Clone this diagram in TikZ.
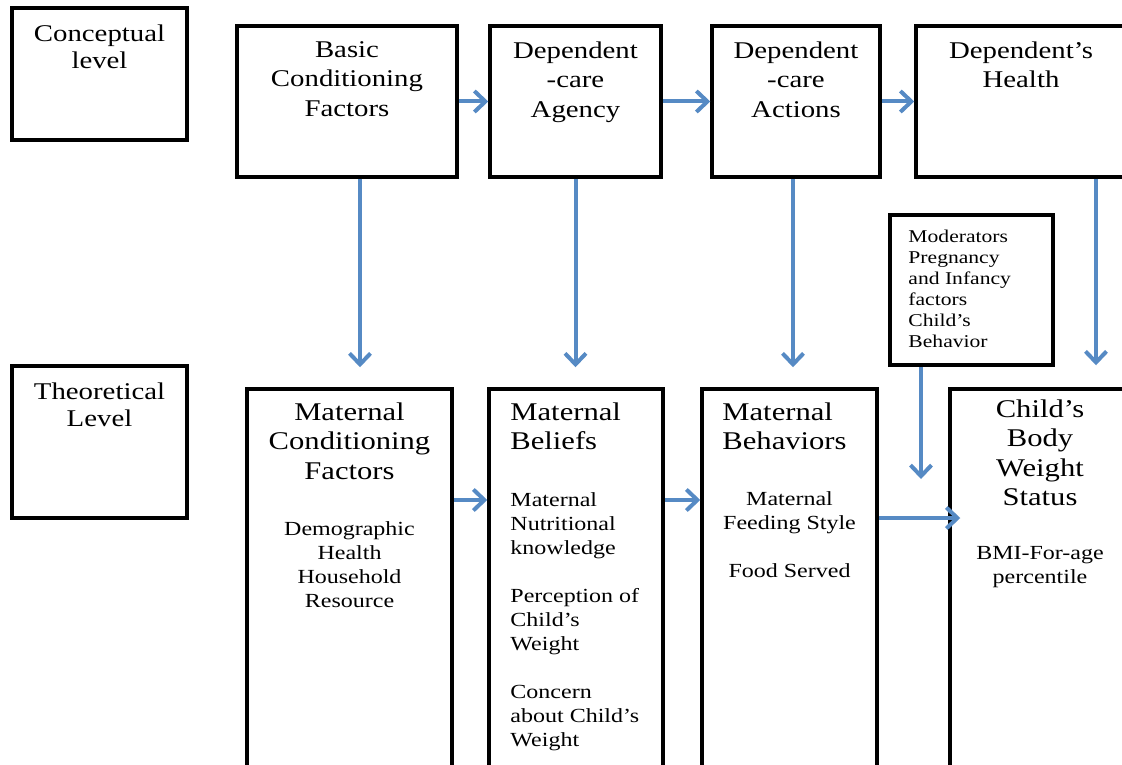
\documentclass[tikz,border=0pt]{standalone}
\usepackage{fontspec}
\setmainfont[FakeStretch=1.2]{Liberation Serif}
\usepackage{tikz}
\usetikzlibrary{arrows.meta,positioning}
\definecolor{linkblue}{RGB}{86,138,196}

\begin{document}
\begin{tikzpicture}[x=1pt, y=-1pt, >={Straight Barb[length=11pt,width=21pt]},
	box/.style={draw, line width=3.5pt, inner sep=0pt},
	lvltext/.style={font=\fontsize{24}{27}\selectfont, align=center, inner sep=0pt},
	toptext/.style={font=\fontsize{24}{29.5}\selectfont, align=center, inner sep=0pt},
	headtext/.style={font=\fontsize{25.5}{29.5}\selectfont, inner sep=0pt},
	bodytext/.style={font=\fontsize{20}{24}\selectfont, inner sep=0pt},
	modtext/.style={font=\fontsize{18}{21}\selectfont, align=left, inner sep=0pt},
	link/.style={->, draw=linkblue, line width=4pt}]
	%\draw [help lines] (0,0) grid (1122,765);
	\useasboundingbox (0,0) rectangle (1122,765);
	\clip (0,0) rectangle (1122,765);
	% level boxes
	\node [box, minimum width=175pt, minimum height=132pt] (concept) at (99.5,74) {};
	\node [box, minimum width=175pt, minimum height=152pt] (theory) at (99.5,442) {};
	\node [lvltext, below=18pt of concept.north] (concept-t) {Conceptual\\level};
	\node [lvltext, below=18pt of theory.north] (theory-t) {Theoretical\\Level};
	% conceptual row
	\node [box, minimum width=220pt, minimum height=151pt] (bcf) at (347,101.5) {};
	\node [box, minimum width=171pt, minimum height=151pt] (dca) at (575.5,101.5) {};
	\node [box, minimum width=168pt, minimum height=151pt] (dcact) at (796,101.5) {};
	\node [box, minimum width=210pt, minimum height=151pt] (dhealth) at (1021,101.5) {};
	\node [toptext, below=17pt of bcf.north] (bcf-t) {Basic\\Conditioning\\Factors};
	\node [toptext, below=17pt of dca.north] (dca-t) {Dependent\\-care\\Agency};
	\node [toptext, below=17pt of dcact.north] (dcact-t) {Dependent\\-care\\Actions};
	\node [toptext, below=17pt of dhealth.north] (dhealth-t) {Dependent’s\\Health};
	% moderators
	\node [box, minimum width=163pt, minimum height=150pt] (moder) at (971.5,290) {};
	\node [modtext, below right=17pt and 20pt of moder.north west] (moder-t) {Moderators\\Pregnancy\\and Infancy\\factors\\Child’s\\Behavior};
	% theoretical row
	\node [box, minimum width=205pt, minimum height=386pt] (mcf) at (349.5,582) {};
	\node [box, minimum width=174pt, minimum height=386pt] (mbel) at (576,582) {};
	\node [box, minimum width=175pt, minimum height=386pt] (mbeh) at (789.5,582) {};
	\node [box, minimum width=180pt, minimum height=386pt] (child) at (1040,582) {};
	\node [headtext, align=center, below=15pt of mcf.north] (mcf-h) {Maternal\\Conditioning\\Factors};
	\node [headtext, align=left, below right=15pt and 23pt of mbel.north west] (mbel-h) {Maternal\\Beliefs};
	\node [headtext, align=left, below right=15pt and 22pt of mbeh.north west] (mbeh-h) {Maternal\\Behaviors};
	\node [headtext, align=center, below=12pt of child.north] (child-h) {Child’s\\Body\\Weight\\Status};
	\node [bodytext, align=center, below=134pt of mcf.north] (mcf-b) {Demographic\\Health\\Household\\Resource};
	\node [bodytext, align=left, below right=105pt and 23pt of mbel.north west] (mbel-b) {Maternal\\Nutritional\\knowledge\\[24pt]Perception of\\Child’s\\Weight\\[24pt]Concern\\about Child’s\\Weight};
	\node [bodytext, align=center, below=104pt of mbeh.north] (mbeh-b) {Maternal\\Feeding Style\\[24pt]Food Served};
	\node [bodytext, align=center, below=159pt of child.north] (child-b) {BMI-For-age\\percentile};
	% arrows
	\draw [link] (bcf.east) -- (dca.west);
	\draw [link] (dca.east) -- (dcact.west);
	\draw [link] (dcact.east) -- (dhealth.west);
	\draw [link, shorten >=20pt] ([xshift=13pt]bcf.south) -- ([xshift=10.5pt]mcf.north);
	\draw [link, shorten >=20pt] (dca.south) -- (dca.south |- mbel.north);
	\draw [link, shorten >=20pt] ([xshift=-3pt]dcact.south) -- ([xshift=3.5pt]mbeh.north);
	\draw [link, shorten >=22pt] ([xshift=75pt]dhealth.south) -- ([xshift=56pt]child.north);
	\coordinate (modend) at (921,479);
	\draw [link] ([xshift=-50.5pt]moder.south) -- (modend);
	\draw [link] ([yshift=82pt]mcf.east) -- ([yshift=82pt]mbel.west);
	\draw [link] ([yshift=82pt]mbel.east) -- ([yshift=82pt]mbeh.west);
	\draw [link] ([yshift=64pt]mbeh.east) -- ([xshift=12pt,yshift=64pt]child.west);
\end{tikzpicture}
\end{document}
